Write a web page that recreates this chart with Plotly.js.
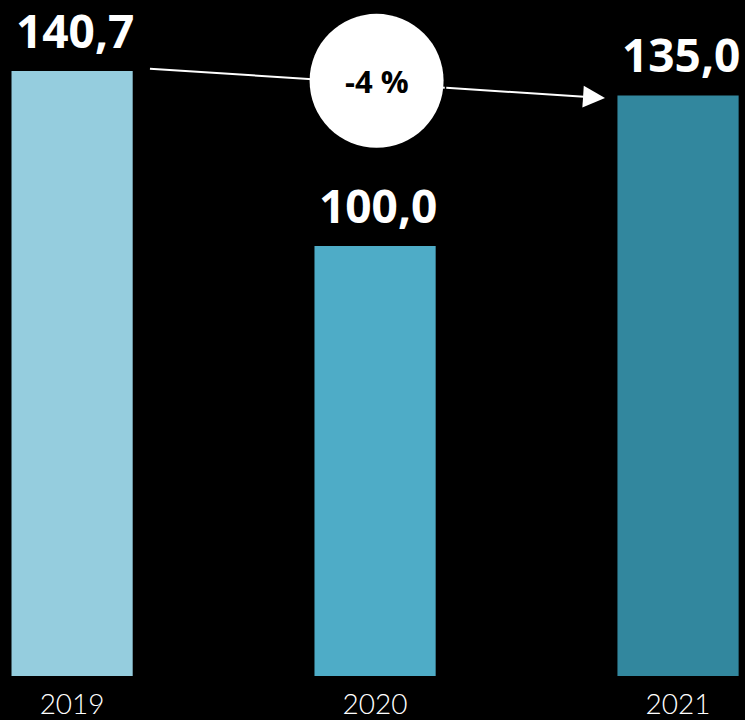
<!DOCTYPE html>
<html><head><meta charset="utf-8">
<script src="https://cdn.plot.ly/plotly-3.0.1.min.js"></script>
<style>html,body{margin:0;padding:0;background:#000;}</style>
</head><body>
<div id="chart" style="width:745px;height:720px;"></div>
<script>
const years = ['2019', '2020', '2021'];
const values = [140.7, 100.0, 135.0];
const valueLabels = ['140,7', '100,0', '135,0'];
const barColors = ['#95CDDE', '#4EACC7', '#32879E'];
const changeLabel = '-4 %';

const positions = years.map((_, i) => i);

const trace = {
  type: 'bar',
  x: positions,
  y: values,
  marker: {color: barColors, line: {width: 0}},
  hoverinfo: 'none'
};

const valueAnnotations = positions.map((p, i) => ({
  xref: 'x', yref: 'y', x: p + 0.01, y: values[i], yanchor: 'bottom', yshift: 8,
  text: valueLabels[i], showarrow: false,
  font: {family: '"Open Sans", sans-serif', size: 46, color: '#ffffff', weight: 'bold'}
}));

const layout = {
  width: 745, height: 720,
  margin: {l: 0, r: 0, t: 0, b: 44},
  paper_bgcolor: '#000000', plot_bgcolor: '#000000',
  showlegend: false,
  bargap: 0.6,
  xaxis: {
    range: [-0.238, 2.221],
    tickvals: positions, ticktext: years,
    showgrid: false, zeroline: false, showline: false, ticks: '',
    tickfont: {family: 'Lato, sans-serif', size: 28, color: '#ffffff', weight: 300},
    ticklabelstandoff: 9,
    fixedrange: true
  },
  yaxis: {
    range: [0, 157.2], visible: false, showgrid: false, zeroline: false, fixedrange: true
  },
  shapes: [
    {type: 'line', xref: 'x', yref: 'y', x0: 0.257, y0: 141.2, x1: 1.23, y1: 136.8,
     line: {color: '#ffffff', width: 2}, layer: 'above'},
    {type: 'circle', xref: 'x', yref: 'y', xsizemode: 'pixel', ysizemode: 'pixel',
     xanchor: 1.005, yanchor: 138.4, x0: -67, x1: 67, y0: -67, y1: 67,
     fillcolor: '#ffffff', line: {width: 0}, layer: 'above'}
  ],
  annotations: valueAnnotations.concat([
    {xref: 'x', yref: 'y', x: 1.759, y: 134.4, axref: 'x', ayref: 'y', ax: 1.23, ay: 136.8,
     text: '', showarrow: true, arrowhead: 2, arrowsize: 2.2, arrowwidth: 2, arrowcolor: '#ffffff', standoff: 0},
    {xref: 'x', yref: 'y', x: 1.005, y: 138.4, text: changeLabel, showarrow: false,
     font: {family: '"Open Sans", sans-serif', size: 31, color: '#000000', weight: 'bold'}}
  ])
};

Plotly.newPlot('chart', [trace], layout, {displayModeBar: false, staticPlot: true});
</script>
</body></html>
